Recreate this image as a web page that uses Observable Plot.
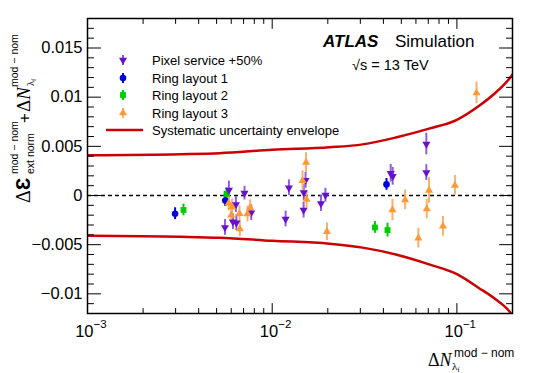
<!DOCTYPE html>
<html><head><meta charset="utf-8">
<script src="https://cdn.jsdelivr.net/npm/d3@7"></script>
<script src="https://cdn.jsdelivr.net/npm/@observablehq/plot@0.6"></script>
<style>body{margin:0;background:#fff;} svg{font-family:"Liberation Sans",Arial,sans-serif;}</style>
</head><body><div id="chart"></div>
<script>
// ---- data ----
const pixelX   = [0.00555,0.00583,0.00613,0.00636,0.00640,0.00708,0.00770,0.01182,0.01232,0.01516,0.01482,0.01479,0.01837,0.01942,0.04381,0.04491,0.06832,0.06832];
const pixelY   = [-0.00325,0.00056,-0.00267,-0.00092,-0.00277,0.00024,-0.00175,-0.00239,0.00079,0.00154,0.00029,-0.00149,-0.00082,0.00003,0.00226,0.00195,0.00524,0.00233];
const pixelErr = [0.0008,0.0009,0.0008,0.0008,0.0008,0.0007,0.0008,0.0008,0.0008,0.0008,0.0008,0.0008,0.0008,0.0007,0.0009,0.0009,0.0011,0.0008];

const ring1X   = [0.00298,0.00557,0.04158];
const ring1Y   = [-0.00185,-0.00051,0.00113];
const ring1Err = [0.0006,0.0006,0.0006];

const ring2X   = [0.00331,0.00566,0.0360,0.0421];
const ring2Y   = [-0.00147,0.00017,-0.00325,-0.00352];
const ring2Err = [0.0006,0.0006,0.0006,0.0007];

const ring3X   = [0.00581,0.00607,0.00600,0.00665,0.00668,0.00760,0.00735,0.01525,0.01460,0.01535,0.01979,0.04479,0.05244,0.06185,0.06867,0.07065,0.08404,0.09754,0.1277];
const ring3Y   = [-0.00077,-0.00116,-0.00201,-0.00185,-0.00339,-0.00123,-0.00188,0.00336,0.00151,-0.00039,-0.00368,-0.00147,-0.00044,-0.00434,-0.00137,0.00051,-0.00313,0.00103,0.01044];
const ring3Err = [0.0008,0.0008,0.0008,0.0008,0.0008,0.0008,0.0008,0.0010,0.0010,0.0009,0.0009,0.0011,0.0010,0.0010,0.0010,0.0013,0.0010,0.0010,0.0011];

const envX     = [0.001,0.0032,0.0052,0.01,0.0204,0.0309,0.0467,0.0707,0.1,0.1314,0.1607,0.1907,0.2];
const envUpper = [0.0041,0.0042,0.0043,0.00465,0.0049,0.0052,0.0059,0.0068,0.0077,0.0091,0.0104,0.0118,0.0123];
const envLower = [-0.0041,-0.0042,-0.0043,-0.0046,-0.0049,-0.0053,-0.0060,-0.0070,-0.0080,-0.0094,-0.0105,-0.0117,-0.0122];

const yMajor = [-0.01,-0.005,0,0.005,0.01,0.015];
const yMajorLabels = ["\u22120.01","\u22120.005","0","0.005","0.01","0.015"];
const yMinor = [-0.012,-0.011,-0.009,-0.008,-0.007,-0.006,-0.004,-0.003,-0.002,-0.001,0.001,0.002,0.003,0.004,0.006,0.007,0.008,0.009,0.011,0.012,0.013,0.014,0.016,0.017,0.018];
const xMajor = [0.001,0.01,0.1];
const xMajorExp = ["\u22123","\u22122","\u22121"];
const xMinor = [0.002,0.003,0.004,0.005,0.006,0.007,0.008,0.009,0.02,0.03,0.04,0.05,0.06,0.07,0.08,0.09,0.2];

const seriesNames = ["Pixel service +50%","Ring layout 1","Ring layout 2","Ring layout 3","Systematic uncertainty envelope"];

// ---- styles ----
const cPurple = "#6611cc", cPurpleBar = "#8f5ee0";
const cBlue = "#0000dd", cGreen = "#00cc00", cOrange = "#ff9933", cOrangeBar = "#f7b070";
const cRed = "#cc0000";

const rows = (xs, ys, es) => xs.map((x, i) => ({x, y: ys[i], e: es[i]}));
const pixel = rows(pixelX, pixelY, pixelErr);
const ring1 = rows(ring1X, ring1Y, ring1Err);
const ring2 = rows(ring2X, ring2Y, ring2Err);
const ring3 = rows(ring3X, ring3Y, ring3Err);
const envU = envX.map((x, i) => ({x, y: envUpper[i]}));
const envL = envX.map((x, i) => ({x, y: envLower[i]}));

const tickShape = {draw(ctx, l) { ctx.moveTo(0, 0); ctx.lineTo(0, -l); }};
const ticks = (data, key, anchor, rotate, length) => Plot.vector(data, {
  [key]: d => d, frameAnchor: anchor, rotate, length, anchor: "start", shape: tickShape,
  stroke: "black", strokeWidth: 1
});
const bars = (data, color) => Plot.ruleX(data, {x: "x", y1: d => d.y - d.e, y2: d => d.y + d.e, stroke: color, strokeWidth: 2});

const plot = Plot.plot({
  width: 540, height: 373,
  marginLeft: 87, marginRight: 28, marginTop: 18, marginBottom: 60,
  style: {fontFamily: "Liberation Sans, Arial, sans-serif", background: "white"},
  x: {type: "log", domain: [0.001, 0.2], axis: null},
  y: {domain: [-0.012, 0.018], axis: null},
  marks: [
    Plot.ruleY([0], {stroke: "black", strokeWidth: 1.5, strokeDasharray: "4,3"}),
    Plot.line(envU, {x: "x", y: "y", curve: "monotone-x", stroke: cRed, strokeWidth: 2.5, clip: true}),
    Plot.line(envL, {x: "x", y: "y", curve: "monotone-x", stroke: cRed, strokeWidth: 2.5, clip: true}),
    bars(ring1, cBlue), bars(ring2, cGreen), bars(pixel, cPurpleBar), bars(ring3, cOrangeBar),
    Plot.dot(ring1, {x: "x", y: "y", symbol: "circle", r: 3.3, fill: cBlue}),
    Plot.dot(ring2, {x: "x", y: "y", symbol: "square", r: 3.3, fill: cGreen}),
    Plot.dot(pixel, {x: "x", y: "y", symbol: "triangle", rotate: 180, r: 3, fill: cPurple}),
    Plot.dot(ring3, {x: "x", y: "y", symbol: "triangle", r: 3, fill: cOrange}),
    // axes ticks (inside, ROOT style)
    ticks(yMajor, "y", "left", 90, 13), ticks(yMinor, "y", "left", 90, 6),
    ticks(yMajor, "y", "right", -90, 13), ticks(yMinor, "y", "right", -90, 6),
    ticks(xMajor, "x", "bottom", 0, 10), ticks(xMinor, "x", "bottom", 0, 5),
    ticks(xMajor, "x", "top", 180, 10), ticks(xMinor, "x", "top", 180, 5),
    Plot.text(yMajor, {y: d => d, text: (d, i) => yMajorLabels[i], frameAnchor: "left", textAnchor: "end", dx: -5, fontSize: 16.5, fill: "black"}),
    Plot.text(xMajor, {x: d => d, text: () => "10", frameAnchor: "bottom", textAnchor: "end", lineAnchor: "bottom", dx: 6, dy: 23, fontSize: 16.5, fill: "black"}),
    Plot.text(xMajor, {x: d => d, text: (d, i) => xMajorExp[i], frameAnchor: "bottom", textAnchor: "start", lineAnchor: "bottom", dx: 6, dy: 14, fontSize: 11.5, fill: "black"}),
    Plot.frame({stroke: "black", strokeWidth: 1.5})
  ]
});
document.getElementById("chart").appendChild(plot);

// ---- annotations: legend, labels ----
const svg = d3.select(plot);
const serif = "Liberation Serif, serif";
const ann = svg.append("g").attr("text-anchor", "start").attr("fill", "black");

// legend
const legendRows = [
  {name: seriesNames[0], type: d3.symbolTriangle, rot: 180, r: 3, fill: cPurple, bar: cPurpleBar},
  {name: seriesNames[1], type: d3.symbolCircle, rot: 0, r: 3.3, fill: cBlue, bar: cBlue},
  {name: seriesNames[2], type: d3.symbolSquare, rot: 0, r: 3.3, fill: cGreen, bar: cGreen},
  {name: seriesNames[3], type: d3.symbolTriangle, rot: 0, r: 3, fill: cOrange, bar: cOrangeBar}
];
const rowY = [60, 78, 95, 113, 130];
legendRows.forEach((d, i) => {
  const y = rowY[i];
  ann.append("line").attr("x1", 123).attr("x2", 123).attr("y1", y - 5).attr("y2", y + 5).attr("stroke", d.bar).attr("stroke-width", 2);
  ann.append("path").attr("d", d3.symbol(d.type, Math.PI * d.r * d.r)()).attr("transform", `translate(123,${y}) rotate(${d.rot})`).attr("fill", d.fill);
  ann.append("text").attr("x", 152).attr("y", y + 4.5).attr("font-size", 13).text(d.name);
});
ann.append("line").attr("x1", 106).attr("x2", 143).attr("y1", rowY[4]).attr("y2", rowY[4]).attr("stroke", cRed).attr("stroke-width", 2.5);
ann.append("text").attr("x", 152).attr("y", rowY[4] + 4.5).attr("font-size", 13).text(seriesNames[4]);

// ATLAS label
const at = ann.append("text").attr("x", 323).attr("y", 47).attr("font-size", 17);
at.append("tspan").attr("font-weight", "bold").attr("font-style", "italic").text("ATLAS");
at.append("tspan").attr("x", 395).text("Simulation");
ann.append("text").attr("x", 352).attr("y", 70).attr("font-size", 14.5).text("\u221As = 13 TeV");

// x-axis label
const xt = ann.append("text").attr("x", 428).attr("y", 366).attr("font-size", 18).attr("font-family", serif);
xt.append("tspan").text("\u0394");
xt.append("tspan").attr("font-style", "italic").text("N");
ann.append("text").attr("x", 454).attr("y", 357).attr("font-size", 12).text("mod \u2212 nom");
const xs = ann.append("text").attr("x", 452).attr("y", 370).attr("font-size", 11).attr("font-family", serif);
xs.append("tspan").text("\u03BB");
xs.append("tspan").attr("font-size", 7).attr("dy", 2).text("f");

// y-axis label (rotated)
const yl = ann.append("g").attr("transform", "translate(30,203) rotate(-90)");
const y1 = yl.append("text").attr("x", 0).attr("y", 0).attr("font-size", 20);
y1.append("tspan").attr("font-family", serif).text("\u0394");
y1.append("tspan").attr("font-weight", "bold").text("\u0190");
yl.append("text").attr("x", 29).attr("y", -12).attr("font-size", 10.5).text("mod \u2212 nom");
yl.append("text").attr("x", 29).attr("y", 4).attr("font-size", 10.5).text("ext norm");
yl.append("text").attr("x", 80).attr("y", 0).attr("font-size", 17).text("+");
const y2 = yl.append("text").attr("x", 91).attr("y", 0).attr("font-size", 19).attr("font-family", serif);
y2.append("tspan").text("\u0394");
y2.append("tspan").attr("font-style", "italic").text("N");
yl.append("text").attr("x", 116).attr("y", -12).attr("font-size", 10.5).text("mod \u2212 nom");
const y3 = yl.append("text").attr("x", 117).attr("y", 4).attr("font-size", 10.5).attr("font-family", serif);
y3.append("tspan").text("\u03BB");
y3.append("tspan").attr("font-size", 7).attr("dy", 2).text("f");
</script>
</body></html>
